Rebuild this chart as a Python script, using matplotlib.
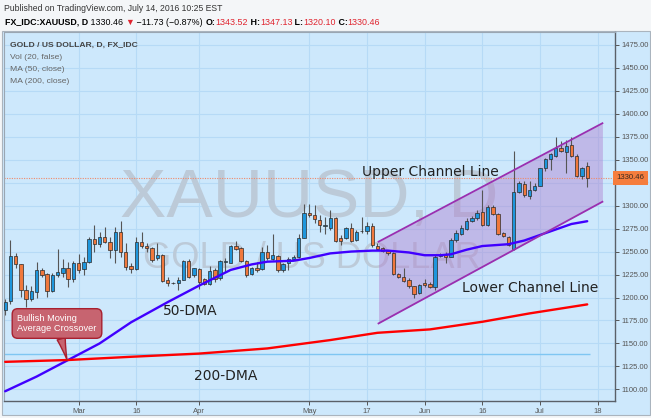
import matplotlib
matplotlib.use('Agg')
import matplotlib.pyplot as plt
from matplotlib.patches import Rectangle
import numpy as np
import pandas as pd

W, H = 651, 418

# daily candles, FX_IDC:XAUUSD, 10 Feb - 14 Jul 2016
dates = pd.bdate_range('2016-02-10', '2016-07-14')
opens = [1186.6, 1195.7, 1245.0, 1236.6, 1208.0, 1198.5, 1206.5, 1230.0, 1225.4, 1207.0,
         1224.0, 1226.4, 1232.0, 1220.0, 1237.3, 1231.0, 1239.0, 1263.8, 1258.0, 1265.6,
         1260.0, 1251.8, 1271.0, 1250.0, 1234.8, 1231.0, 1260.9, 1256.5, 1254.3, 1242.8,
         1246.4, 1219.0, 1215.6, 1215.6, 1219.0, 1240.0, 1224.6, 1231.0, 1220.0, 1214.5,
         1230.0, 1221.0, 1239.0, 1237.3, 1256.5, 1254.3, 1240.2, 1225.4, 1232.6, 1231.0,
         1249.3, 1241.7, 1245.3, 1230.0, 1237.3, 1242.0, 1243.8, 1264.5, 1291.7, 1289.9,
         1284.4, 1278.0, 1275.4, 1286.2, 1264.5, 1264.5, 1276.0, 1262.7, 1272.5, 1272.5,
         1278.0, 1256.5, 1253.6, 1250.7, 1248.2, 1225.4, 1222.8, 1219.0, 1212.0, 1204.7,
         1216.0, 1214.7, 1211.8, 1245.3, 1246.3, 1244.5, 1262.6, 1269.1, 1274.2, 1283.7,
         1286.2, 1293.5, 1279.0, 1298.9, 1290.9, 1269.9, 1265.5, 1252.5, 1315.2, 1324.0,
         1310.0, 1317.2, 1321.6, 1340.7, 1350.8, 1354.4, 1363.1, 1358.0, 1366.0, 1354.0,
         1331.7, 1343.52]
highs = [1198.0, 1262.7, 1248.0, 1237.0, 1213.8, 1212.7, 1239.0, 1232.6, 1226.4, 1226.4,
         1253.0, 1242.0, 1239.0, 1240.0, 1247.0, 1244.6, 1266.3, 1279.0, 1271.7, 1277.0,
         1266.3, 1277.0, 1283.4, 1259.0, 1237.3, 1266.3, 1271.0, 1259.0, 1255.4, 1259.0,
         1247.0, 1222.8, 1217.0, 1222.8, 1241.0, 1242.0, 1232.6, 1232.6, 1221.0, 1234.8,
         1232.0, 1241.0, 1243.0, 1257.2, 1261.6, 1255.4, 1241.0, 1233.7, 1239.0, 1255.4,
         1257.2, 1269.0, 1246.4, 1237.3, 1244.6, 1246.4, 1269.0, 1301.4, 1301.4, 1300.7,
         1289.9, 1288.0, 1295.3, 1288.0, 1268.0, 1277.0, 1280.8, 1273.5, 1288.0, 1282.6,
         1281.0, 1259.0, 1255.4, 1252.0, 1249.3, 1226.4, 1232.6, 1221.0, 1213.0, 1214.5,
         1219.8, 1217.2, 1246.3, 1248.8, 1250.0, 1264.4, 1273.5, 1279.0, 1286.2, 1288.8,
         1295.3, 1317.0, 1300.7, 1300.7, 1292.4, 1271.7, 1267.0, 1359.9, 1327.2, 1327.0,
         1327.0, 1324.5, 1341.4, 1352.3, 1357.0, 1375.0, 1370.3, 1371.4, 1375.0, 1356.2,
         1342.5, 1347.13]
lows = [1181.0, 1193.0, 1232.0, 1201.0, 1190.0, 1196.0, 1200.0, 1222.8, 1201.0, 1206.5,
        1222.8, 1222.8, 1211.0, 1217.4, 1226.4, 1224.6, 1237.3, 1250.0, 1255.4, 1259.0,
        1242.8, 1237.3, 1244.6, 1230.0, 1226.4, 1230.0, 1254.0, 1250.0, 1239.0, 1241.0,
        1217.4, 1212.0, 1215.0, 1208.0, 1219.0, 1221.0, 1222.8, 1209.0, 1213.8, 1213.8,
        1217.0, 1219.0, 1228.0, 1237.3, 1252.0, 1239.0, 1222.8, 1224.6, 1228.0, 1230.0,
        1241.0, 1241.0, 1228.0, 1228.0, 1230.0, 1241.0, 1242.8, 1264.5, 1288.0, 1280.8,
        1271.0, 1268.6, 1273.5, 1260.9, 1257.0, 1263.8, 1260.9, 1261.6, 1270.0, 1268.6,
        1255.4, 1251.8, 1249.3, 1246.4, 1224.6, 1221.0, 1217.4, 1210.0, 1199.0, 1203.6,
        1211.8, 1210.0, 1208.2, 1243.7, 1237.2, 1243.7, 1260.8, 1268.1, 1273.5, 1282.6,
        1284.4, 1277.9, 1277.9, 1289.8, 1268.1, 1265.5, 1256.0, 1251.7, 1313.4, 1309.0,
        1307.5, 1315.4, 1320.8, 1337.1, 1338.9, 1353.3, 1358.0, 1335.3, 1353.3, 1330.6,
        1329.0, 1320.10]
closes = [1195.6, 1245.3, 1236.6, 1208.0, 1198.5, 1207.0, 1230.0, 1224.6, 1207.0, 1224.6,
          1228.0, 1232.0, 1220.0, 1237.3, 1230.0, 1239.0, 1263.8, 1258.0, 1266.3, 1260.0,
          1251.8, 1271.7, 1250.0, 1233.7, 1231.0, 1260.9, 1256.5, 1253.6, 1241.0, 1246.4,
          1218.0, 1215.6, 1216.0, 1219.0, 1240.0, 1222.8, 1232.0, 1217.4, 1214.5, 1229.0,
          1220.0, 1240.0, 1239.5, 1256.5, 1253.0, 1240.2, 1224.6, 1232.6, 1230.0, 1249.3,
          1242.8, 1246.4, 1230.0, 1236.6, 1242.0, 1244.6, 1264.5, 1291.7, 1290.0, 1285.5,
          1279.0, 1279.4, 1287.0, 1261.6, 1261.6, 1276.0, 1261.6, 1271.7, 1272.0, 1278.0,
          1257.2, 1253.0, 1250.7, 1248.2, 1225.4, 1222.8, 1218.0, 1212.0, 1203.6, 1213.8,
          1213.2, 1211.8, 1244.5, 1246.3, 1243.7, 1262.6, 1269.9, 1275.3, 1283.7, 1286.9,
          1292.4, 1279.0, 1298.9, 1290.9, 1269.1, 1267.0, 1257.2, 1315.2, 1325.0, 1312.0,
          1317.2, 1321.6, 1340.7, 1350.8, 1355.9, 1363.1, 1359.5, 1365.3, 1354.0, 1331.7,
          1341.4, 1330.46]

# moving averages (candle number, price)
ma50_pos = [0, 6, 12, 18, 24, 31, 37, 43, 47, 50, 55, 58, 62, 66, 70, 73, 77, 80, 83,
            85, 88, 91, 96, 99, 102, 105, 108, 111]
ma50_val = [1098, 1114, 1132, 1150, 1173, 1195, 1213, 1230, 1236, 1239, 1240, 1243, 1248,
            1250, 1251, 1251, 1249, 1246, 1246, 1247, 1252, 1256, 1258, 1262, 1268, 1274,
            1280, 1283]
ma200_pos = [0, 12, 24, 37, 50, 62, 71, 81, 91, 100, 111]
ma200_val = [1130, 1132, 1135.5, 1139, 1144.6, 1153.7, 1161.6, 1165.3, 1173.6, 1182.7, 1192.5]

# drawn channel (start/end candle, upper & lower prices)
chan_pos = [71.2, 113.9]
chan_upper = [1260.7, 1389.6]
chan_lower = [1171.8, 1304.2]
support_level = 1138
support_end = 111.6

tick_dates = ['2016-03-01', '2016-03-16', '2016-04-01', '2016-05-02', '2016-05-17',
              '2016-06-01', '2016-06-16', '2016-07-01', '2016-07-18']
tick_labels = ['Mar', '16', 'Apr', 'May', '17', 'Jun', '16', 'Jul', '18']
price_ticks = np.arange(1100, 1476, 25)

bg = '#cde8fc'
grid_c = '#b6daf6'
up_c = '#1e96dc'
down_c = '#f0783c'
wm_c = '#bccad8'
sans = ['Liberation Sans', 'DejaVu Sans']

fig = plt.figure(figsize=(W / 100, H / 100), dpi=100)
fig.patch.set_facecolor('#f4f6f8')
fig.patches.append(Rectangle((2 / W, 1 - 415 / H), 648 / W, 384 / H, transform=fig.transFigure,
                             fc=bg, ec='#aab4be', lw=0.8, zorder=-5))

ax = fig.add_axes([3.5 / W, 1 - 401 / H, 611.5 / W, 369.3 / H])
ax.set_facecolor(bg)

o = np.array(opens); h = np.array(highs); l = np.array(lows); c = np.array(closes)
x = np.arange(len(dates))
cols = np.where(c >= o, up_c, down_c)

# grid
all_days = pd.bdate_range('2016-02-10', '2016-07-29')
tick_pos = all_days.get_indexer(pd.to_datetime(tick_dates))
for tp in tick_pos:
    ax.axvline(tp, color=grid_c, lw=0.8, zorder=0.5)
for pt in price_ticks:
    ax.axhline(pt, color=grid_c, lw=0.8, zorder=0.5)

# watermark
ax.text(0.4996, 0.499, 'XAUUSD, D', transform=ax.transAxes, ha='center', va='baseline',
        fontsize=50, family='Liberation Sans', color=wm_c, zorder=0.8)
ax.text(0.505, 0.36, 'GOLD / US DOLLAR', transform=ax.transAxes, ha='center', va='baseline',
        fontsize=26, family='Liberation Sans', color=wm_c, zorder=0.8)

# channel
ax.fill_between(chan_pos, chan_lower, chan_upper, color='#b080d0', alpha=0.45, lw=0, zorder=1)
ax.plot(chan_pos, chan_upper, color='#9a2fb0', lw=1.3, zorder=4)
ax.plot(chan_pos, chan_lower, color='#9a2fb0', lw=1.3, zorder=4)

# horizontal support line and last price line
ax.hlines(support_level, -1, support_end, color='#7fc6f2', lw=1.0, zorder=1.5)
ax.axhline(c[-1], color='#f08a6a', lw=0.8, ls=(0, (1, 1.2)), zorder=1.5)

# candles
ax.vlines(x, l, h, color='#555555', lw=0.8, zorder=2)
body_lo = np.minimum(o, c)
body_h = np.maximum(np.abs(c - o), 0.7)
ax.bar(x, body_h, bottom=body_lo, width=0.64, color=cols, edgecolor='#2b2b2b', lw=0.5, zorder=3)

# moving averages
ax.plot(ma50_pos, ma50_val, color='#4000ff', lw=1.7, zorder=3.5, solid_capstyle='round',
        solid_joinstyle='round')
ax.plot(ma200_pos, ma200_val, color='#ff0000', lw=1.7, zorder=3.5, solid_capstyle='round',
        solid_joinstyle='round')

ax.set_xlim(-0.32, 116.3)
ax.set_ylim(1087.4, 1489.2)

ax.yaxis.tick_right()
ax.set_yticks(price_ticks)
ax.set_yticklabels(['%.2f' % p for p in price_ticks])
ax.set_xticks(tick_pos)
ax.set_xticklabels(tick_labels)
ax.tick_params(axis='both', labelsize=5.5, colors='#555555', length=3, width=0.7, pad=2)
for lab in ax.get_xticklabels() + ax.get_yticklabels():
    lab.set_family(sans)
for side in ['left', 'top']:
    ax.spines[side].set_color('#9aa6b2')
    ax.spines[side].set_linewidth(0.8)
for side in ['right', 'bottom']:
    ax.spines[side].set_color('#5a6068')
    ax.spines[side].set_linewidth(1.0)

# last price label on the axis
ax.text(1.002, c[-1], '%.2f' % c[-1], transform=ax.get_yaxis_transform(), ha='left', va='center',
        fontsize=5.6, family=sans, color='#3a2a20', clip_on=False, zorder=10,
        bbox=dict(boxstyle='square,pad=0.45', fc='#f57d3d', ec='none'))


def axpx(px, py):
    return ((px - 3.5) / 611.5, 1 - (py - 31.7) / 369.3)


# annotations
for txt, (px, py) in [('Upper Channel Line', (362, 176)), ('Lower Channel Line', (462, 292)),
                      ('50-DMA', (163, 315)), ('200-DMA', (194, 380))]:
    ax.text(*axpx(px, py), txt, transform=ax.transAxes, fontsize=10, family='DejaVu Sans',
            color='#222222', ha='left', va='baseline', zorder=6)

ax.annotate('Bullish Moving\nAverage Crossover', xy=(11.8, 1132), xycoords='data',
            xytext=axpx(57, 323.5), textcoords='axes fraction', ha='center', va='center',
            multialignment='left', fontsize=6.7, family=sans, color='white', zorder=7,
            bbox=dict(boxstyle='round,pad=0.55,rounding_size=0.6', fc='#c76470', ec='#a8202f', lw=1),
            arrowprops=dict(arrowstyle='wedge,tail_width=0.9,shrink_factor=0.4', fc='#c76470',
                            ec='#a8202f', lw=1, shrinkA=0, shrinkB=0))

# legend block
leg = [('GOLD / US DOLLAR, D, FX_IDC', 'bold', '#444444', 47),
       ('Vol (20, false)', 'normal', '#666666', 59),
       ('MA (50, close)', 'normal', '#666666', 71),
       ('MA (200, close)', 'normal', '#666666', 83)]
for txt, wt, col, py in leg:
    fig.text(10 / W, 1 - py / H, txt, fontsize=6.1, fontweight=wt, color=col, family=sans,
             va='baseline', ha='left')

# header
fig.text(3.5 / W, 1 - 11 / H, 'Published on TradingView.com, July 14, 2016 10:25 EST',
         fontsize=6.2, color='#333333', family=sans, va='baseline')

red = '#e0242f'
pieces = [('FX_IDC:XAUUSD, D', 'bold', 'black'), (' 1330.46 ', 'normal', 'black'),
          ('\u25bc', 'normal', red), (' \u221211.73 (\u22120.87%) ', 'normal', 'black'),
          ('O:', 'bold', 'black'), ('1343.52', 'normal', red),
          (' H:', 'bold', 'black'), ('1347.13', 'normal', red),
          (' L:', 'bold', 'black'), ('1320.10', 'normal', red),
          (' C:', 'bold', 'black'), ('1330.46', 'normal', red)]
r = fig.canvas.get_renderer()
xp = 5.0
for s, wt, col in pieces:
    t = fig.text(xp / W, 1 - 25 / H, s, fontsize=6.4, fontweight=wt, color=col, family=sans,
                 va='baseline', ha='left')
    xp += t.get_window_extent(renderer=r).width

fig.savefig('out.png', dpi=100, facecolor=fig.get_facecolor())
